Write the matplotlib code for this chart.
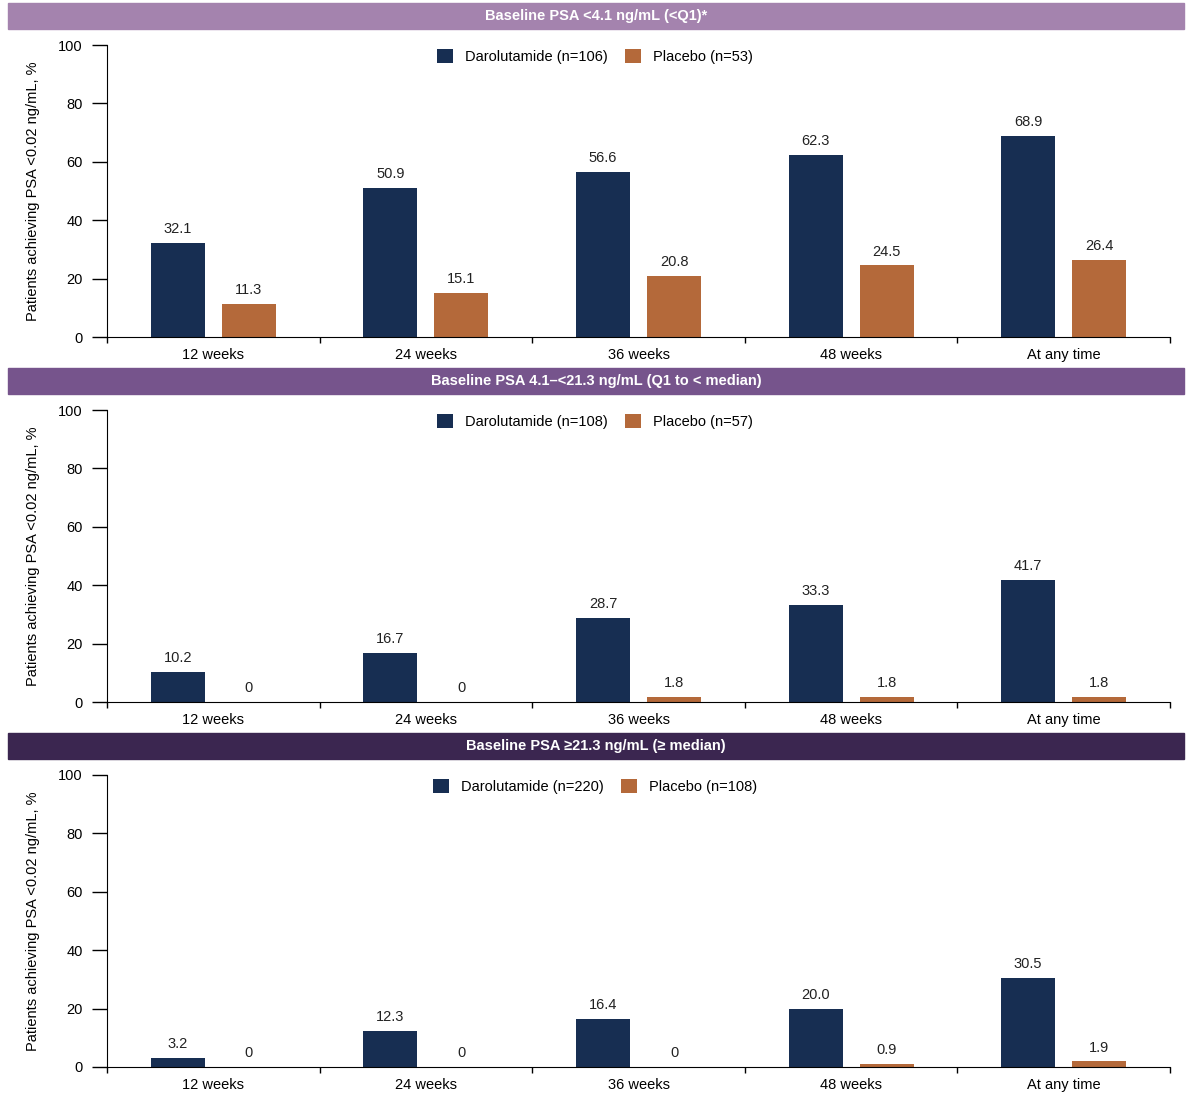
import numpy as np
import matplotlib
matplotlib.use("Agg")
from matplotlib import pyplot as plt
from matplotlib.patches import Rectangle

plt.rcParams['font.family'] = ['Liberation Sans', 'DejaVu Sans']

categories = ["12 weeks", "24 weeks", "36 weeks", "48 weeks", "At any time"]

titles = ["Baseline PSA <4.1 ng/mL (<Q1)*",
          "Baseline PSA 4.1\u2013<21.3 ng/mL (Q1 to < median)",
          "Baseline PSA \u226521.3 ng/mL (\u2265 median)"]

daro_labels = ["Darolutamide (n=106)", "Darolutamide (n=108)", "Darolutamide (n=220)"]
plac_labels = ["Placebo (n=53)", "Placebo (n=57)", "Placebo (n=108)"]

daro_q1 = [32.1, 50.9, 56.6, 62.3, 68.9]
plac_q1 = [11.3, 15.1, 20.8, 24.5, 26.4]
daro_mid = [10.2, 16.7, 28.7, 33.3, 41.7]
plac_mid = [0, 0, 1.8, 1.8, 1.8]
daro_high = [3.2, 12.3, 16.4, 20.0, 30.5]
plac_high = [0, 0, 0, 0.9, 1.9]

daro_all = [daro_q1, daro_mid, daro_high]
plac_all = [plac_q1, plac_mid, plac_high]

banner_colors = ["#A483AE", "#76548C", "#3B2650"]
navy = "#172E52"
orange = "#B4693A"

W, H = 1200, 1098
fig = plt.figure(figsize=(12, 10.98), dpi=100)

# pixel layout for each panel: (banner top, axis top, axis bottom)
panels = [(3, 45, 337), (368, 410, 702), (733, 775, 1067)]
x_left, x_right = 107, 1170

def fmt(v):
    return "0" if v == 0 else f"{v:.1f}"

x = np.arange(len(categories))
bw = 0.254
off = 0.167

for i, (btop, atop, abot) in enumerate(panels):
    # banner
    fig.patches.append(Rectangle((8 / W, 1 - (btop + 26) / H), (1184 - 8) / W, 26 / H,
                                 transform=fig.transFigure, color=banner_colors[i], zorder=0))
    fig.text(596 / W, 1 - (btop + 13) / H, titles[i], color="white", fontweight="bold",
             fontsize=10.5, ha="center", va="center")

    ax = fig.add_axes([x_left / W, 1 - abot / H, (x_right - x_left) / W, (abot - atop) / H])
    ax.bar(x - off, daro_all[i], bw, color=navy, label=daro_labels[i])
    ax.bar(x + off, plac_all[i], bw, color=orange, label=plac_labels[i])
    for xs, vals in [(x - off, daro_all[i]), (x + off, plac_all[i])]:
        for xx, v in zip(xs, vals):
            ax.annotate(fmt(v), (xx, v), xytext=(0, 5), textcoords="offset points",
                        ha="center", va="bottom", fontsize=10.5, color="#222222")

    ax.set_xlim(-0.5, len(categories) - 0.5)
    ax.set_ylim(0, 100)
    ax.set_yticks([0, 20, 40, 60, 80, 100])
    ax.set_xticks(x)
    ax.set_xticklabels(categories)
    ax.set_xticks(np.arange(len(categories) + 1) - 0.5, minor=True)
    ax.tick_params(axis="x", which="major", length=0, pad=8, labelsize=10.5)
    ax.tick_params(axis="x", which="minor", length=4, width=1)
    ax.tick_params(axis="y", length=10.5, width=1, pad=7, labelsize=10.5)
    ax.spines["top"].set_visible(False)
    ax.spines["right"].set_visible(False)
    ax.set_ylabel("Patients achieving PSA <0.02 ng/mL, %", fontsize=10.5)
    ax.yaxis.set_label_coords(-0.063, 0.5)

    ax.legend(loc="center", bbox_to_anchor=(0.459, 0.962), ncol=2, frameon=False,
              fontsize=10.5, handlelength=1.1, handleheight=1.1, columnspacing=1.2,
              handletextpad=0.8)

fig.savefig("out.png", dpi=100)
